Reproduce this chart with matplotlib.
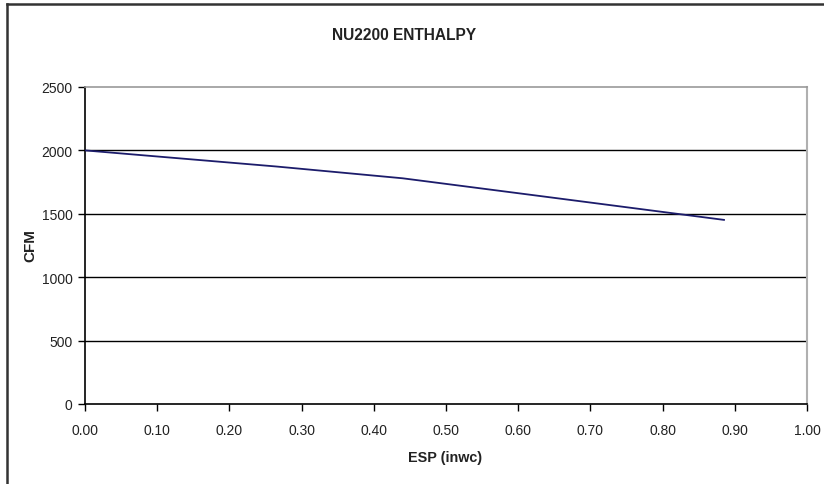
import numpy as np
import matplotlib
matplotlib.use("Agg")
from matplotlib import pyplot as plt
from matplotlib.lines import Line2D

plt.rcParams['font.family'] = ['Liberation Sans', 'DejaVu Sans']

esp = [0.0, 0.265, 0.44, 0.64, 0.885]     # ESP (inwc)
cfm = [2000, 1873, 1780, 1633, 1452]      # CFM
xticks = np.round(np.arange(0, 1.01, 0.1), 2)
yticks = [0, 500, 1000, 1500, 2000, 2500]

W, H = 824, 485
fig = plt.figure(figsize=(W/100, H/100), dpi=100)
ax = fig.add_axes([85/W, 1-405/H, (807-85)/W, (405-88)/H])

ax.plot(esp, cfm, color='#1c1c6b', lw=1.3, zorder=3)

ax.set_xlim(0, 1)
ax.set_ylim(0, 2500)
ax.set_xticks(xticks)
ax.set_xticklabels(['%.2f' % v for v in xticks])
ax.set_yticks(yticks)
ax.set_yticklabels([str(v) for v in yticks])
ax.tick_params(direction='out', length=5, width=1, color='black',
               labelsize=10, labelcolor='#222222', pad=4)
ax.tick_params(axis='x', pad=9)

for v in yticks[1:-1]:
    ax.axhline(v, color='black', lw=1, zorder=1)

ax.spines['left'].set_color('black')
ax.spines['bottom'].set_color('black')
ax.spines['top'].set_color('#999999')
ax.spines['right'].set_color('#b0b0b0')
for s in ax.spines.values():
    s.set_linewidth(1.2)
ax.spines['right'].set_linewidth(1.5)

fig.text(404/W, 1-35/H, 'NU2200 ENTHALPY', ha='center', va='center',
         fontsize=11.2, fontweight='bold', color='#222222')
fig.text(445/W, 1-458/H, 'ESP (inwc)', ha='center', va='center',
         fontsize=10.4, fontweight='bold', color='#222222')
fig.text(30/W, 1-246/H, 'CFM', ha='center', va='center', rotation=90,
         fontsize=11, fontweight='bold', color='#222222')

# chart border
fig.add_artist(Line2D([7/W, 7/W], [0, 1-5/H], color='#333333', lw=1.8))
fig.add_artist(Line2D([7/W, 1], [1-5/H, 1-5/H], color='#333333', lw=1.8))

fig.savefig('out.png', dpi=100)
